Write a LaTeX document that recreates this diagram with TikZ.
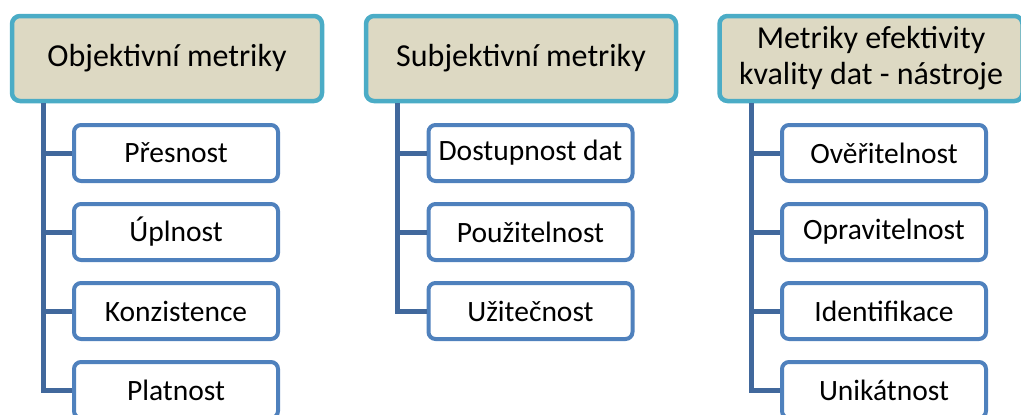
\documentclass[tikz,border=0pt]{standalone}
\usepackage{fontspec}
\setmainfont{Carlito}
\definecolor{headfill}{HTML}{DDD9C3}
\definecolor{headline}{HTML}{4BACC6}
\definecolor{itemline}{HTML}{4F81BD}
\definecolor{treeline}{HTML}{41689C}
\tikzset{
  headbox/.style={draw=headline, fill=headfill, line width=4.5pt, rounded corners=8pt,
    minimum height=85pt, align=center, font=\fontsize{32}{36}\selectfont},
  itembox/.style={draw=itemline, fill=white, line width=4pt, rounded corners=7pt,
    minimum width=204pt, minimum height=56pt, font=\fontsize{29.5}{34}\selectfont},
  treelink/.style={draw=treeline, line width=5pt}
}
\begin{document}
\begin{tikzpicture}[x=1pt, y=-1pt]
    \useasboundingbox (0,0) rectangle (1021,415);
    % headers
    \node[headbox, minimum width=310pt] (objektivni) at (167,58.5) {Objektivní metriky};
    \node[headbox, minimum width=310pt] (subjektivni) at (521,58.5) {Subjektivní metriky};
    \node[headbox, minimum width=303pt] (efektivita) at (871,58.5) {Metriky efektivity\\kvality dat - nástroje};
    % items
    \node[itembox] (presnost) at (176,153) {Přesnost};
    \node[itembox] (uplnost) at (176,232) {Úplnost};
    \node[itembox] (konzistence) at (176,311) {Konzistence};
    \node[itembox] (platnost) at (176,390) {Platnost};
    \node[itembox] (dostupnost) at (530.5,153) {Dostupnost dat};
    \node[itembox] (pouzitelnost) at (530.5,232) {Použitelnost};
    \node[itembox] (uzitecnost) at (530.5,311) {Užitečnost};
    \node[itembox] (overitelnost) at (884,153) {Ověřitelnost};
    \node[itembox] (opravitelnost) at (884,232) {Opravitelnost};
    \node[itembox] (identifikace) at (884,311) {Identifikace};
    \node[itembox] (unikatnost) at (884,390) {Unikátnost};
    % tree lines
    \coordinate (objtop) at (objektivni.south -| 43,0);
    \coordinate (subtop) at (subjektivni.south -| 397,0);
    \coordinate (efetop) at (efektivita.south -| 751,0);
    \draw[treelink] (objtop) |- (platnost.west);
    \foreach \n in {presnost,uplnost,konzistence}
      \draw[treelink] (objtop |- \n.west) -- (\n.west);
    \draw[treelink] (subtop) |- (uzitecnost.west);
    \foreach \n in {dostupnost,pouzitelnost}
      \draw[treelink] (subtop |- \n.west) -- (\n.west);
    \draw[treelink] (efetop) |- (unikatnost.west);
    \foreach \n in {overitelnost,opravitelnost,identifikace}
      \draw[treelink] (efetop |- \n.west) -- (\n.west);
\end{tikzpicture}
\end{document}
